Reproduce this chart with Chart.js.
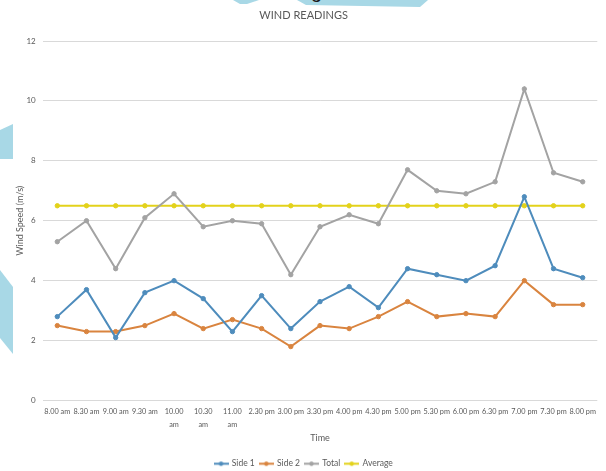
<!DOCTYPE html>
<html>
<head>
<meta charset="utf-8">
<script src="https://cdn.jsdelivr.net/npm/chart.js@4/dist/chart.umd.min.js"></script>
<style>
  html, body { margin: 0; padding: 0; background: #ffffff; }
  #wrap { position: relative; width: 606px; height: 471px; overflow: hidden; }
  #deco { position: absolute; left: 0; top: 0; }
  canvas#chart { position: absolute; left: 0; top: 0; }
</style>
</head>
<body>
<div id="wrap">
  <svg id="deco" width="606" height="471" xmlns="http://www.w3.org/2000/svg">
    <g fill="#a8d8e6">
      <polygon points="233,0 259,0 247,4 240,4"/>
      <polygon points="297,0 428,0 420,7 306,5"/>
      <polygon points="0,130 13,124 13,159 0,159"/>
      <polygon points="0,270 13,287 13,354 0,338"/>
    </g>
    <text x="311" y="-2" font-family="Liberation Sans" font-size="20" fill="#1a1a1a">g</text>
  </svg>
  <canvas id="chart" width="606" height="471"></canvas>
</div>
<script>
// Reading times along the horizontal axis
const categories = ['8.00 am', '8.30 am', '9.00 am', '9.30 am', '10.00 am', '10.30 am', '11.00 am',
  '2.30 pm', '3.00 pm', '3.30 pm', '4.00 pm', '4.30 pm', '5.00 pm', '5.30 pm', '6.00 pm',
  '6.30 pm', '7.00 pm', '7.30 pm', '8.00 pm'];

// Tick labels as printed (morning labels wrap onto two lines)
const tickLabels = ['8.00 am', '8.30 am', '9.00 am', '9.30 am', ['10.00', 'am'], ['10.30', 'am'], ['11.00', 'am'],
  '2.30 pm', '3.00 pm', '3.30 pm', '4.00 pm', '4.30 pm', '5.00 pm', '5.30 pm', '6.00 pm',
  '6.30 pm', '7.00 pm', '7.30 pm', '8.00 pm'];

// Wind speed readings in m/s
const side1   = [2.8, 3.7, 2.1, 3.6, 4.0, 3.4, 2.3, 3.5, 2.4, 3.3, 3.8, 3.1, 4.4, 4.2, 4.0, 4.5, 6.8, 4.4, 4.1];
const side2   = [2.5, 2.3, 2.3, 2.5, 2.9, 2.4, 2.7, 2.4, 1.8, 2.5, 2.4, 2.8, 3.3, 2.8, 2.9, 2.8, 4.0, 3.2, 3.2];
const total   = [5.3, 6.0, 4.4, 6.1, 6.9, 5.8, 6.0, 5.9, 4.2, 5.8, 6.2, 5.9, 7.7, 7.0, 6.9, 7.3, 10.4, 7.6, 7.3];
const average = [6.5, 6.5, 6.5, 6.5, 6.5, 6.5, 6.5, 6.5, 6.5, 6.5, 6.5, 6.5, 6.5, 6.5, 6.5, 6.5, 6.5, 6.5, 6.5];

const yTicks = [0, 2, 4, 6, 8, 10, 12];

const seriesNames = ['Side 1', 'Side 2', 'Total', 'Average'];
const seriesValues = [side1, side2, total, average];
const seriesColors = ['#4e8cbc', '#d9843f', '#a3a3a3', '#e3d21b'];

const FONT = 'Lato, "Open Sans", "DejaVu Sans", sans-serif';
const TEXT = '#595959';

// Small line-with-marker swatch for each legend entry
function swatch(color) {
  const c = document.createElement('canvas');
  c.width = 15; c.height = 7;
  const g = c.getContext('2d');
  g.strokeStyle = color; g.lineWidth = 2;
  g.beginPath(); g.moveTo(0, 3.5); g.lineTo(15, 3.5); g.stroke();
  g.fillStyle = color;
  g.beginPath(); g.arc(7.5, 3.5, 2.2, 0, Math.PI * 2); g.fill();
  return c;
}
const swatches = seriesColors.map(swatch);

const datasets = seriesNames.map((name, i) => ({
  label: name,
  data: seriesValues[i],
  borderColor: seriesColors[i],
  backgroundColor: seriesColors[i],
  pointBackgroundColor: seriesColors[i],
  pointBorderColor: seriesColors[i],
  borderWidth: 2,
  pointRadius: 2.2,
  pointBorderWidth: 1,
  tension: 0,
  fill: false
}));

new Chart(document.getElementById('chart'), {
  type: 'line',
  data: { labels: categories, datasets },
  options: {
    responsive: false,
    animation: false,
    events: [],
    layout: { padding: { left: 10, right: 8.7, top: 0, bottom: -7 } },
    plugins: {
      title: {
        display: true,
        text: 'WIND READINGS',
        color: TEXT,
        font: { family: FONT, size: 11, weight: 'normal' },
        padding: { top: 8.4, bottom: 19.4 }
      },
      legend: {
        position: 'bottom',
        labels: {
          color: TEXT,
          font: { family: FONT, size: 8.5 },
          usePointStyle: true,
          pointStyleWidth: 13,
          padding: 5,
          generateLabels: (chart) => chart.data.datasets.map((ds, i) => ({
            text: ds.label,
            pointStyle: swatches[i],
            fontColor: TEXT,
            strokeStyle: ds.borderColor,
            fillStyle: ds.borderColor,
            lineWidth: 0,
            hidden: false,
            datasetIndex: i
          }))
        }
      },
      tooltip: { enabled: false }
    },
    scales: {
      x: {
        offset: true,
        grid: { display: false, drawTicks: false },
        border: { display: false },
        ticks: {
          color: TEXT,
          font: { family: FONT, size: 7.3, lineHeight: 1.8 },
          padding: 4.4,
          autoSkip: false,
          maxRotation: 0,
          minRotation: 0,
          callback: (v, i) => tickLabels[i]
        },
        title: {
          display: true,
          text: 'Time',
          color: TEXT,
          font: { family: FONT, size: 9 },
          padding: { top: 0, bottom: 10.6 }
        },
        afterFit: (s) => { s.height = 54; }
      },
      y: {
        min: 0,
        max: 12,
        grid: { color: '#d9d9d9', lineWidth: 1, drawTicks: false },
        border: { display: false },
        afterBuildTicks: (s) => { s.ticks = yTicks.map(v => ({ value: v })); },
        ticks: {
          color: TEXT,
          font: { family: FONT, size: 8 },
          padding: 7
        },
        title: {
          display: true,
          text: 'Wind Speed (m/s)',
          color: TEXT,
          font: { family: FONT, size: 9 },
          padding: { top: 4.6, bottom: 0 }
        },
        afterFit: (s) => { s.width = 32.7; }
      }
    }
  }
});
</script>
</body>
</html>
